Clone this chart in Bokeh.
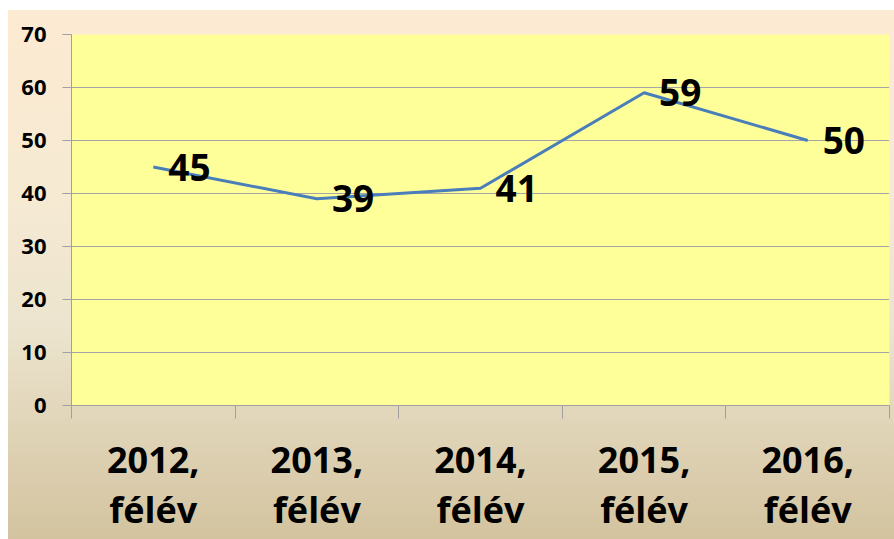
from bokeh.plotting import figure
from bokeh.models import Range1d, FixedTicker, ColumnDataSource
from bokeh.core.properties import value
from bokeh.embed import file_html
from bokeh.resources import INLINE

categories = ["2012,\nfélév", "2013,\nfélév", "2014,\nfélév", "2015,\nfélév", "2016,\nfélév"]
values = [45, 39, 41, 59, 50]
y_ticks = [0, 10, 20, 30, 40, 50, 60, 70]

xs = [i + 0.5 for i in range(len(categories))]
source = ColumnDataSource(dict(x=xs, y=values, label=[str(v) for v in values]))

FONT = "Open Sans"

p = figure(width=886, height=529, frame_width=818, frame_height=371,
           output_backend="svg", toolbar_location=None,
           x_range=Range1d(0, len(categories)), y_range=Range1d(0, 70),
           min_border_left=63, min_border_right=5, min_border_top=24, min_border_bottom=134)
p.styles = {"background": "linear-gradient(to bottom, #FDEAD2 0%, #F6EAD3 35%, #ECE4CE 60%, #D3C39F 100%)",
            "margin-top": "10px", "margin-left": "8px"}
p.border_fill_color = None
p.background_fill_color = "#FFFF99"
p.outline_line_color = None

p.line("x", "y", source=source, line_color="#4A7EBB", line_width=3)
p.text("x", "y", text="label", source=source, x_offset=15, text_baseline="middle",
       text_align="left", text_font=value(FONT), text_font_style="bold",
       text_font_size="37px", text_color="black")

# y axis
ya = p.yaxis[0]
ya.ticker = FixedTicker(ticks=y_ticks)
ya.axis_line_color = "#A0A0A0"
ya.major_tick_line_color = "#A0A0A0"
ya.major_tick_out = 9
ya.major_tick_in = 0
ya.minor_tick_line_color = None
ya.major_label_text_font = FONT
ya.major_label_text_font_style = "bold"
ya.major_label_text_font_size = "22px"
ya.major_label_text_color = "black"
ya.major_label_standoff = 16

# x axis
xa = p.xaxis[0]
xa.ticker = FixedTicker(ticks=xs, minor_ticks=list(range(len(categories) + 1)))
xa.major_label_overrides = {x: c for x, c in zip(xs, categories)}
xa.axis_line_color = "#A0A0A0"
xa.major_tick_line_color = None
xa.minor_tick_line_color = "#A0A0A0"
xa.minor_tick_out = 13
xa.minor_tick_in = 0
xa.major_label_text_font = FONT
xa.major_label_text_font_style = "bold"
xa.major_label_text_font_size = "36px"
xa.major_label_text_color = "black"
xa.major_label_text_line_height = 1.04
xa.major_label_standoff = 16

p.xgrid.grid_line_color = None
p.ygrid.ticker = FixedTicker(ticks=y_ticks)
p.ygrid.grid_line_color = "#A6A6A6"
p.ygrid.grid_line_width = 1

open("out.html", "w").write(file_html(p, INLINE))
